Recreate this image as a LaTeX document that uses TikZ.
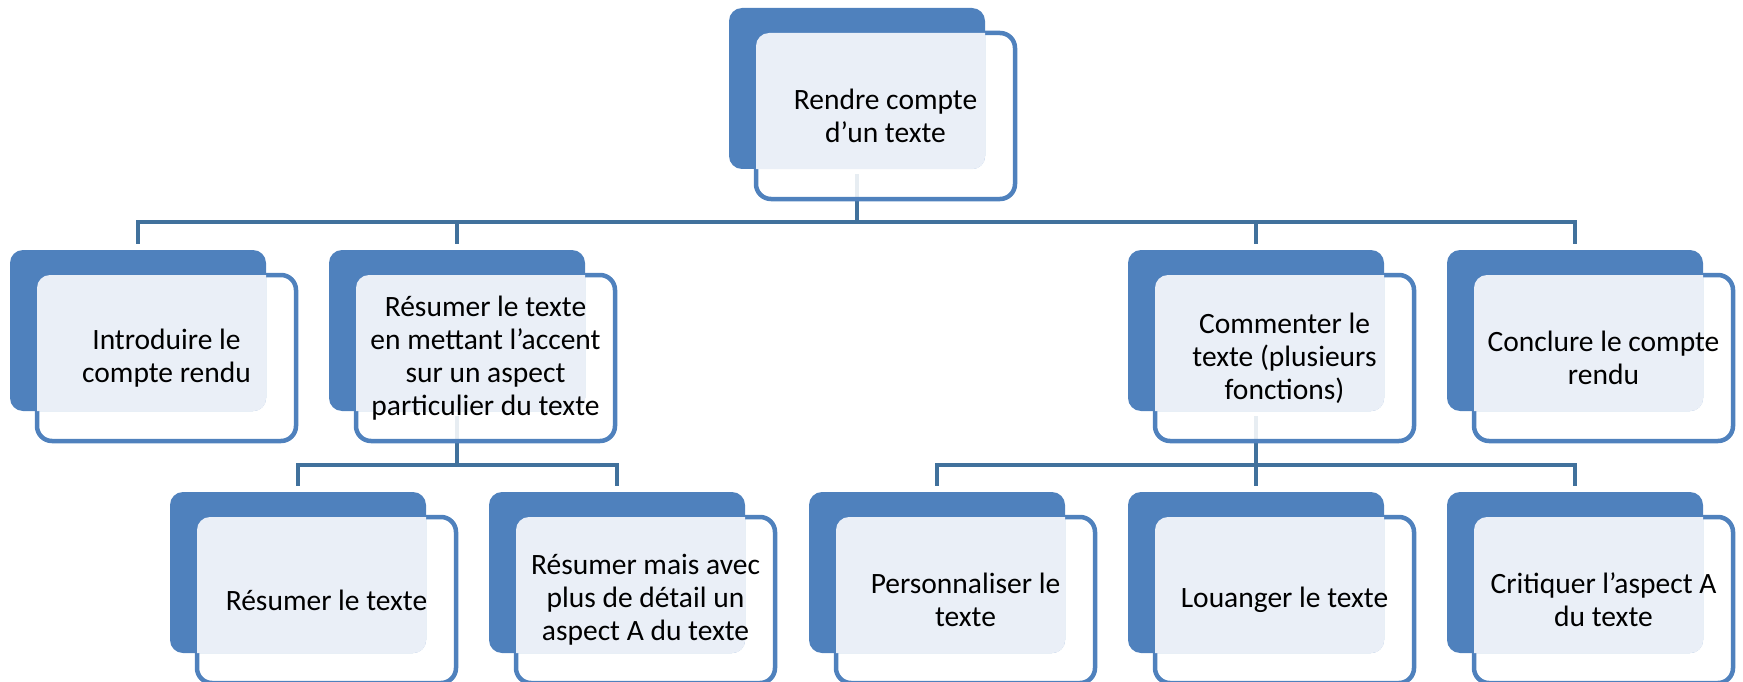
\documentclass[tikz,border=0pt]{standalone}
\usepackage{fontspec}
\setmainfont{Carlito}
\usetikzlibrary{backgrounds}
\definecolor{backblue}{HTML}{4F81BD}
\definecolor{lineblue}{HTML}{4F81BD}
\definecolor{connblue}{HTML}{41719C}
\definecolor{lightfill}{RGB}{234,239,247}
\tikzset{
  backbox/.style={rectangle, rounded corners=13pt, minimum width=256pt, minimum height=161pt, inner sep=0pt, fill=backblue, draw=none},
  frontbox/.style={rectangle, rounded corners=15pt, minimum width=259pt, minimum height=166pt, inner sep=0pt, draw=lineblue, line width=4.5pt, fill=white, fill opacity=0.88},
  boxtext/.style={align=center, inner sep=0pt, text=black, font=\fontsize{29.5}{33}\selectfont},
  conn/.style={draw=connblue, line width=4.3pt}
}
\newcommand\smartbox[4]{%
  \node[frontbox] (#1f) at (#2+156.5, #3+108) {};
  \node[backbox] (#1b) at (#2+128, #3+80.5) {};
  \begin{scope}
    \clip[rounded corners=13pt] (#1b.north west) rectangle (#1b.south east);
    \fill[lightfill, rounded corners=13pt] ([xshift=2.25pt,yshift=-2.25pt]#1f.north west) rectangle ([xshift=-2.25pt,yshift=2.25pt]#1f.south east);
  \end{scope}
  \node[boxtext] (#1) at (#1f.center) {#4};
}
\begin{document}
\begin{tikzpicture}[x=1pt,y=-1pt]
\useasboundingbox (0,0) rectangle (1743,682);
\smartbox{n0}{729}{8}{Rendre compte\\d’un texte}
\smartbox{n1}{10}{250}{Introduire le\\compte rendu}
\smartbox{n2}{329}{250}{Résumer le texte\\en mettant l’accent\\sur un aspect\\particulier du texte}
\smartbox{n3}{1128}{250}{Commenter le\\texte (plusieurs\\fonctions)}
\smartbox{n4}{1447}{250}{Conclure le compte\\rendu}
\smartbox{n5}{170}{492}{Résumer le texte}
\smartbox{n6}{489}{492}{Résumer mais avec\\plus de détail un\\aspect A du texte}
\smartbox{n7}{809}{492}{Personnaliser le\\texte}
\smartbox{n8}{1128}{492}{Louanger le texte}
\smartbox{n9}{1447}{492}{Critiquer l’aspect A\\du texte}
\coordinate (bar0) at (0,222);
\coordinate (bar1) at (0,465);
\begin{pgfonlayer}{background}
\foreach \c in {n1,n2,n3,n4}
  \draw[conn] ([yshift=-5pt]n0b.south) -- (n0b.south |- bar0) -| ([yshift=6pt]\c b.north);
\foreach \c in {n5,n6}
  \draw[conn] ([yshift=-5pt]n2b.south) -- (n2b.south |- bar1) -| ([yshift=6pt]\c b.north);
\foreach \c in {n7,n8,n9}
  \draw[conn] ([yshift=-5pt]n3b.south) -- (n3b.south |- bar1) -| ([yshift=6pt]\c b.north);
\end{pgfonlayer}
\end{tikzpicture}
\end{document}
